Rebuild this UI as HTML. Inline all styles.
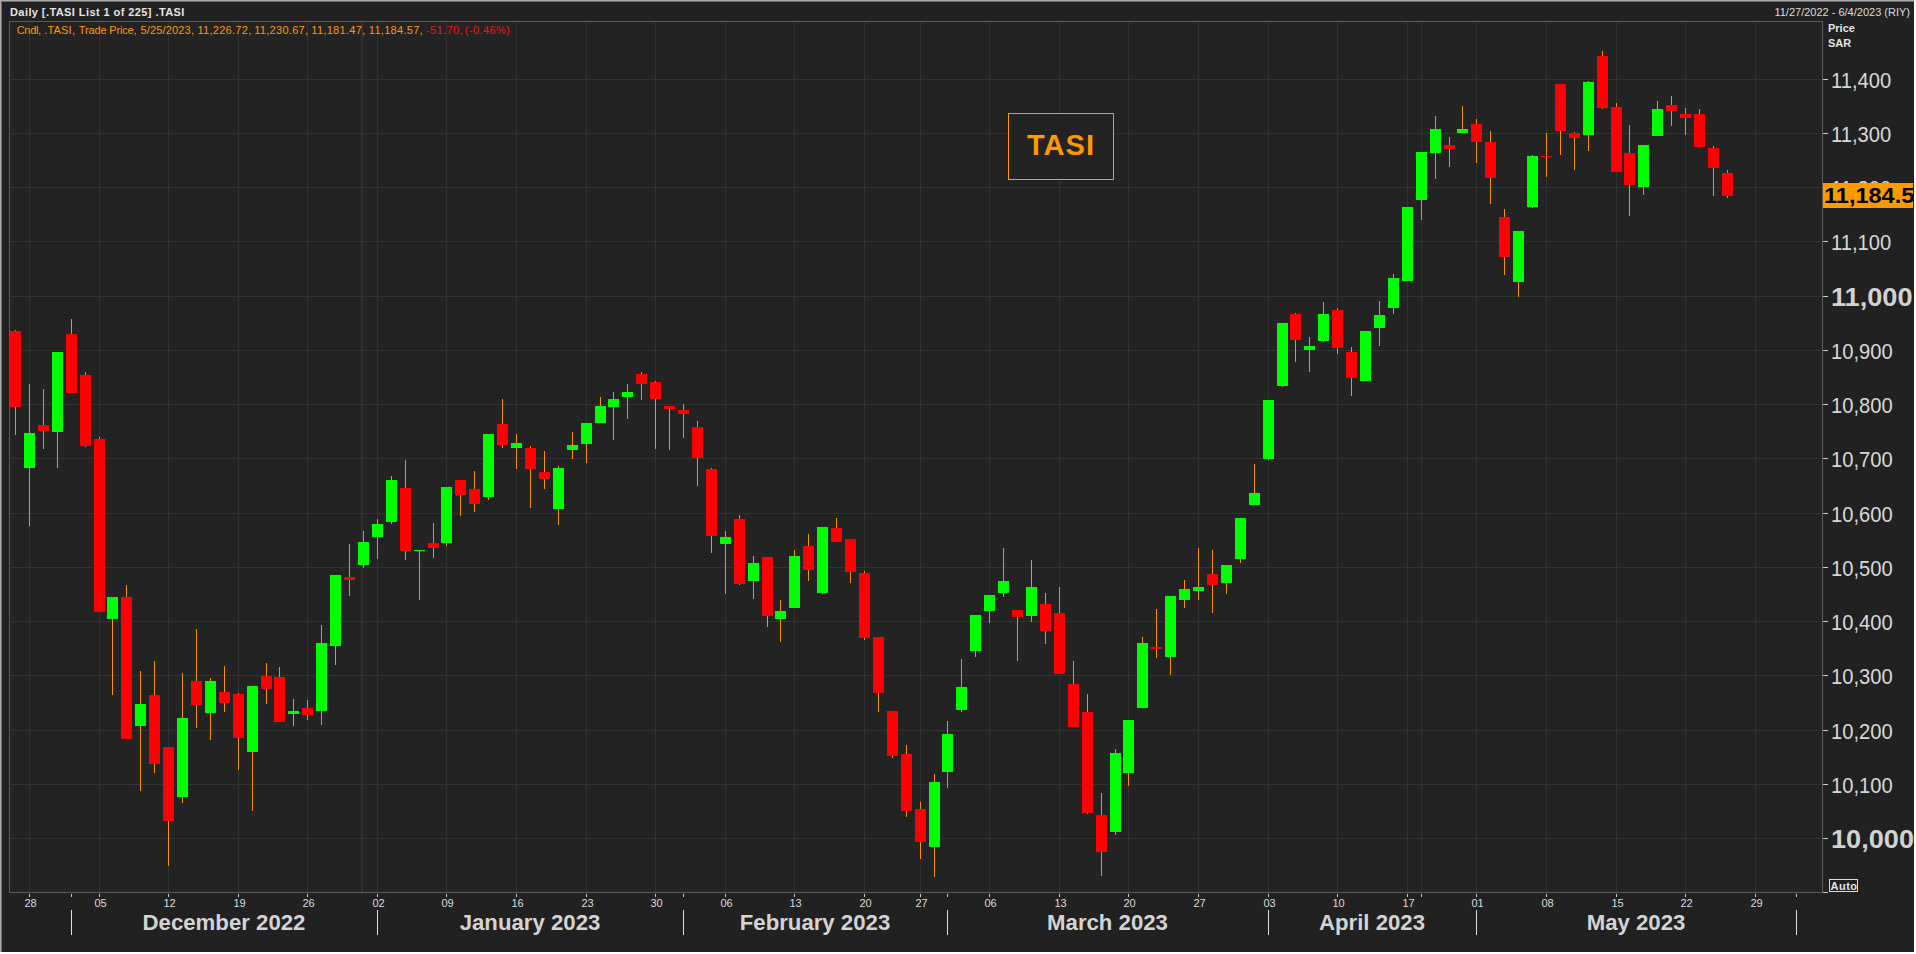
<!DOCTYPE html><html><head><meta charset="utf-8"><title>TASI</title><style>

html,body{margin:0;padding:0;background:#212121;}
body{width:1916px;height:954px;position:relative;overflow:hidden;font-family:"Liberation Sans",sans-serif;}
#wrap{position:absolute;left:0;top:0;width:1916px;height:954px;background:#212121;overflow:hidden;}
svg{position:absolute;left:0;top:0;}
.t{position:absolute;white-space:nowrap;line-height:1;}
.title{font-size:11px;font-weight:bold;color:#e4e4e4;left:10px;top:7px;letter-spacing:0.42px;}
.lg{font-size:11px;color:#ff9900;top:25px;}
.lg.r{color:#f41414;}
.rng{font-size:11px;color:#dcdcdc;top:7px;right:6px;}
.ph{font-size:11px;font-weight:bold;color:#e4e4e4;left:1828px;}
.yl{font-size:22.7px;color:#d8d8d8;left:1830.5px;transform-origin:0 0;transform:scaleX(0.89);}
.yb{font-size:25px;font-weight:bold;color:#d2d2d2;left:1830.5px;transform-origin:0 0;transform:scaleX(1.085);}
.dl{font-size:11px;color:#dcdcdc;width:30px;text-align:center;top:898px;}
.ml{font-size:22.2px;font-weight:bold;color:#d4d4d4;letter-spacing:0px;top:912px;width:300px;text-align:center;}
#cur{position:absolute;left:1823px;top:183px;width:90px;height:25px;background:#ff9900;overflow:hidden;}
#cur span{position:absolute;left:1px;top:2px;font-size:21.6px;font-weight:bold;color:#000;transform-origin:0 0;transform:scaleX(1.09);white-space:nowrap;line-height:1;}
#tasi{position:absolute;left:1008px;top:113px;width:104px;height:65px;border:1px solid #ff9900;background:#232323;}
#tasi span{position:absolute;left:0px;width:104px;text-align:center;top:17px;font-size:29px;font-weight:bold;color:#ff9900;line-height:1;letter-spacing:1px;}
#auto{position:absolute;left:1829px;top:879px;width:27px;height:11px;border:1px solid #dddddd;}
#auto span{position:absolute;left:0.5px;top:1px;font-size:11px;font-weight:bold;color:#e4e4e4;line-height:1;letter-spacing:0.5px;}
.edge{position:absolute;background:#a8a8a8;}

</style></head><body><div id="wrap">
<svg width="1916" height="954" viewBox="0 0 1916 954" shape-rendering="crispEdges"><rect x="9" y="21" width="1814" height="872" fill="#232323"/><rect x="10" y="79" width="1812" height="1" fill="#323232"/><rect x="10" y="133" width="1812" height="1" fill="#323232"/><rect x="10" y="187" width="1812" height="1" fill="#323232"/><rect x="10" y="241" width="1812" height="1" fill="#323232"/><rect x="10" y="296" width="1812" height="1" fill="#323232"/><rect x="10" y="350" width="1812" height="1" fill="#323232"/><rect x="10" y="404" width="1812" height="1" fill="#323232"/><rect x="10" y="458" width="1812" height="1" fill="#323232"/><rect x="10" y="513" width="1812" height="1" fill="#323232"/><rect x="10" y="567" width="1812" height="1" fill="#323232"/><rect x="10" y="621" width="1812" height="1" fill="#323232"/><rect x="10" y="675" width="1812" height="1" fill="#323232"/><rect x="10" y="730" width="1812" height="1" fill="#323232"/><rect x="10" y="784" width="1812" height="1" fill="#323232"/><rect x="10" y="838" width="1812" height="1" fill="#323232"/><rect x="29" y="22" width="1" height="870" fill="#323232"/><rect x="99" y="22" width="1" height="870" fill="#323232"/><rect x="168" y="22" width="1" height="870" fill="#323232"/><rect x="238" y="22" width="1" height="870" fill="#323232"/><rect x="307" y="22" width="1" height="870" fill="#323232"/><rect x="377" y="22" width="1" height="870" fill="#323232"/><rect x="446" y="22" width="1" height="870" fill="#323232"/><rect x="516" y="22" width="1" height="870" fill="#323232"/><rect x="586" y="22" width="1" height="870" fill="#323232"/><rect x="655" y="22" width="1" height="870" fill="#323232"/><rect x="725" y="22" width="1" height="870" fill="#323232"/><rect x="794" y="22" width="1" height="870" fill="#323232"/><rect x="864" y="22" width="1" height="870" fill="#323232"/><rect x="920" y="22" width="1" height="870" fill="#323232"/><rect x="989" y="22" width="1" height="870" fill="#323232"/><rect x="1059" y="22" width="1" height="870" fill="#323232"/><rect x="1128" y="22" width="1" height="870" fill="#323232"/><rect x="1198" y="22" width="1" height="870" fill="#323232"/><rect x="1268" y="22" width="1" height="870" fill="#323232"/><rect x="1337" y="22" width="1" height="870" fill="#323232"/><rect x="1407" y="22" width="1" height="870" fill="#323232"/><rect x="1421" y="22" width="1" height="870" fill="#323232"/><rect x="1476" y="22" width="1" height="870" fill="#323232"/><rect x="1546" y="22" width="1" height="870" fill="#323232"/><rect x="1616" y="22" width="1" height="870" fill="#323232"/><rect x="1685" y="22" width="1" height="870" fill="#323232"/><rect x="1755" y="22" width="1" height="870" fill="#323232"/><rect x="361" y="22" width="2" height="870" fill="#303030"/><rect x="9" y="21" width="1814" height="1" fill="#5a5a5a"/><rect x="9" y="892" width="1814" height="1" fill="#5a5a5a"/><rect x="9" y="21" width="1" height="872" fill="#5a5a5a"/><rect x="1822" y="21" width="1" height="872" fill="#5a5a5a"/><rect x="1823" y="79" width="5" height="1" fill="#cccccc"/><rect x="1823" y="133" width="5" height="1" fill="#cccccc"/><rect x="1823" y="187" width="5" height="1" fill="#cccccc"/><rect x="1823" y="241" width="5" height="1" fill="#cccccc"/><rect x="1823" y="296" width="5" height="1" fill="#cccccc"/><rect x="1823" y="350" width="5" height="1" fill="#cccccc"/><rect x="1823" y="404" width="5" height="1" fill="#cccccc"/><rect x="1823" y="458" width="5" height="1" fill="#cccccc"/><rect x="1823" y="513" width="5" height="1" fill="#cccccc"/><rect x="1823" y="567" width="5" height="1" fill="#cccccc"/><rect x="1823" y="621" width="5" height="1" fill="#cccccc"/><rect x="1823" y="675" width="5" height="1" fill="#cccccc"/><rect x="1823" y="730" width="5" height="1" fill="#cccccc"/><rect x="1823" y="784" width="5" height="1" fill="#cccccc"/><rect x="1823" y="838" width="5" height="1" fill="#cccccc"/><rect x="1823" y="892" width="5" height="1" fill="#cccccc"/><rect x="29" y="894" width="1" height="3" fill="#cccccc"/><rect x="99" y="894" width="1" height="3" fill="#cccccc"/><rect x="168" y="894" width="1" height="3" fill="#cccccc"/><rect x="238" y="894" width="1" height="3" fill="#cccccc"/><rect x="307" y="894" width="1" height="3" fill="#cccccc"/><rect x="377" y="894" width="1" height="3" fill="#cccccc"/><rect x="446" y="894" width="1" height="3" fill="#cccccc"/><rect x="516" y="894" width="1" height="3" fill="#cccccc"/><rect x="586" y="894" width="1" height="3" fill="#cccccc"/><rect x="655" y="894" width="1" height="3" fill="#cccccc"/><rect x="725" y="894" width="1" height="3" fill="#cccccc"/><rect x="794" y="894" width="1" height="3" fill="#cccccc"/><rect x="864" y="894" width="1" height="3" fill="#cccccc"/><rect x="920" y="894" width="1" height="3" fill="#cccccc"/><rect x="989" y="894" width="1" height="3" fill="#cccccc"/><rect x="1059" y="894" width="1" height="3" fill="#cccccc"/><rect x="1128" y="894" width="1" height="3" fill="#cccccc"/><rect x="1198" y="894" width="1" height="3" fill="#cccccc"/><rect x="1268" y="894" width="1" height="3" fill="#cccccc"/><rect x="1337" y="894" width="1" height="3" fill="#cccccc"/><rect x="1407" y="894" width="1" height="3" fill="#cccccc"/><rect x="1421" y="894" width="1" height="3" fill="#cccccc"/><rect x="1476" y="894" width="1" height="3" fill="#cccccc"/><rect x="1546" y="894" width="1" height="3" fill="#cccccc"/><rect x="1616" y="894" width="1" height="3" fill="#cccccc"/><rect x="1685" y="894" width="1" height="3" fill="#cccccc"/><rect x="1755" y="894" width="1" height="3" fill="#cccccc"/><rect x="71" y="894" width="1" height="3" fill="#cccccc"/><rect x="71" y="910" width="1" height="25" fill="#dddddd"/><rect x="377" y="894" width="1" height="3" fill="#cccccc"/><rect x="377" y="910" width="1" height="25" fill="#dddddd"/><rect x="683" y="894" width="1" height="3" fill="#cccccc"/><rect x="683" y="910" width="1" height="25" fill="#dddddd"/><rect x="947" y="894" width="1" height="3" fill="#cccccc"/><rect x="947" y="910" width="1" height="25" fill="#dddddd"/><rect x="1268" y="894" width="1" height="3" fill="#cccccc"/><rect x="1268" y="910" width="1" height="25" fill="#dddddd"/><rect x="1476" y="894" width="1" height="3" fill="#cccccc"/><rect x="1476" y="910" width="1" height="25" fill="#dddddd"/><rect x="1796" y="894" width="1" height="3" fill="#cccccc"/><rect x="1796" y="910" width="1" height="25" fill="#dddddd"/><rect x="15" y="330" width="1" height="105" fill="#f59300"/><rect x="10" y="331" width="11" height="76" fill="#ff0000"/><rect x="29" y="384" width="1" height="142" fill="#f59300"/><rect x="24" y="433" width="11" height="35" fill="#00ff00"/><rect x="43" y="389" width="1" height="60" fill="#f59300"/><rect x="38" y="425" width="11" height="6" fill="#ff0000"/><rect x="57" y="352" width="1" height="116" fill="#f59300"/><rect x="52" y="352" width="11" height="80" fill="#00ff00"/><rect x="71" y="319" width="1" height="74" fill="#f59300"/><rect x="66" y="334" width="11" height="59" fill="#ff0000"/><rect x="85" y="372" width="1" height="75" fill="#f59300"/><rect x="80" y="375" width="11" height="71" fill="#ff0000"/><rect x="99" y="437" width="1" height="175" fill="#f59300"/><rect x="94" y="439" width="11" height="173" fill="#ff0000"/><rect x="112" y="597" width="1" height="98" fill="#f59300"/><rect x="107" y="597" width="11" height="22" fill="#00ff00"/><rect x="126" y="585" width="1" height="154" fill="#f59300"/><rect x="121" y="597" width="11" height="142" fill="#ff0000"/><rect x="140" y="671" width="1" height="120" fill="#f59300"/><rect x="135" y="704" width="11" height="22" fill="#00ff00"/><rect x="154" y="661" width="1" height="112" fill="#f59300"/><rect x="149" y="695" width="11" height="69" fill="#ff0000"/><rect x="168" y="747" width="1" height="119" fill="#f59300"/><rect x="163" y="747" width="11" height="74" fill="#ff0000"/><rect x="182" y="673" width="1" height="130" fill="#f59300"/><rect x="177" y="718" width="11" height="79" fill="#00ff00"/><rect x="196" y="629" width="1" height="99" fill="#f59300"/><rect x="191" y="681" width="11" height="24" fill="#ff0000"/><rect x="210" y="678" width="1" height="62" fill="#f59300"/><rect x="205" y="681" width="11" height="32" fill="#00ff00"/><rect x="224" y="666" width="1" height="46" fill="#f59300"/><rect x="219" y="692" width="11" height="11" fill="#ff0000"/><rect x="238" y="693" width="1" height="77" fill="#f59300"/><rect x="233" y="694" width="11" height="44" fill="#ff0000"/><rect x="252" y="686" width="1" height="125" fill="#f59300"/><rect x="247" y="686" width="11" height="66" fill="#00ff00"/><rect x="266" y="663" width="1" height="41" fill="#f59300"/><rect x="261" y="676" width="11" height="13" fill="#ff0000"/><rect x="279" y="667" width="1" height="55" fill="#f59300"/><rect x="274" y="677" width="11" height="45" fill="#ff0000"/><rect x="293" y="699" width="1" height="27" fill="#f59300"/><rect x="288" y="711" width="11" height="3" fill="#00ff00"/><rect x="307" y="700" width="1" height="20" fill="#f59300"/><rect x="302" y="708" width="11" height="7" fill="#ff0000"/><rect x="321" y="625" width="1" height="100" fill="#f59300"/><rect x="316" y="643" width="11" height="68" fill="#00ff00"/><rect x="335" y="575" width="1" height="90" fill="#f59300"/><rect x="330" y="575" width="11" height="71" fill="#00ff00"/><rect x="349" y="544" width="1" height="52" fill="#f59300"/><rect x="344" y="577" width="11" height="3" fill="#ff0000"/><rect x="363" y="531" width="1" height="37" fill="#f59300"/><rect x="358" y="542" width="11" height="23" fill="#00ff00"/><rect x="377" y="519" width="1" height="40" fill="#f59300"/><rect x="372" y="524" width="11" height="13" fill="#00ff00"/><rect x="391" y="476" width="1" height="48" fill="#f59300"/><rect x="386" y="480" width="11" height="42" fill="#00ff00"/><rect x="405" y="460" width="1" height="100" fill="#f59300"/><rect x="400" y="488" width="11" height="63" fill="#ff0000"/><rect x="419" y="550" width="1" height="50" fill="#f59300"/><rect x="414" y="550" width="11" height="1" fill="#00ff00"/><rect x="433" y="523" width="1" height="35" fill="#f59300"/><rect x="428" y="543" width="11" height="5" fill="#ff0000"/><rect x="446" y="487" width="1" height="59" fill="#f59300"/><rect x="441" y="487" width="11" height="56" fill="#00ff00"/><rect x="460" y="480" width="1" height="36" fill="#f59300"/><rect x="455" y="480" width="11" height="15" fill="#ff0000"/><rect x="474" y="471" width="1" height="41" fill="#f59300"/><rect x="469" y="489" width="11" height="15" fill="#ff0000"/><rect x="488" y="434" width="1" height="66" fill="#f59300"/><rect x="483" y="434" width="11" height="63" fill="#00ff00"/><rect x="502" y="399" width="1" height="49" fill="#f59300"/><rect x="497" y="424" width="11" height="21" fill="#ff0000"/><rect x="516" y="434" width="1" height="35" fill="#f59300"/><rect x="511" y="443" width="11" height="5" fill="#00ff00"/><rect x="530" y="446" width="1" height="62" fill="#f59300"/><rect x="525" y="448" width="11" height="21" fill="#ff0000"/><rect x="544" y="451" width="1" height="38" fill="#f59300"/><rect x="539" y="472" width="11" height="7" fill="#ff0000"/><rect x="558" y="466" width="1" height="59" fill="#f59300"/><rect x="553" y="468" width="11" height="41" fill="#00ff00"/><rect x="572" y="432" width="1" height="27" fill="#f59300"/><rect x="567" y="445" width="11" height="5" fill="#00ff00"/><rect x="586" y="423" width="1" height="40" fill="#f59300"/><rect x="581" y="423" width="11" height="21" fill="#00ff00"/><rect x="600" y="397" width="1" height="26" fill="#f59300"/><rect x="595" y="406" width="11" height="17" fill="#00ff00"/><rect x="613" y="392" width="1" height="48" fill="#f59300"/><rect x="608" y="399" width="11" height="8" fill="#00ff00"/><rect x="627" y="384" width="1" height="35" fill="#f59300"/><rect x="622" y="392" width="11" height="5" fill="#00ff00"/><rect x="641" y="372" width="1" height="28" fill="#f59300"/><rect x="636" y="374" width="11" height="10" fill="#ff0000"/><rect x="655" y="381" width="1" height="68" fill="#f59300"/><rect x="650" y="382" width="11" height="17" fill="#ff0000"/><rect x="669" y="406" width="1" height="44" fill="#f59300"/><rect x="664" y="406" width="11" height="3" fill="#ff0000"/><rect x="683" y="404" width="1" height="34" fill="#f59300"/><rect x="678" y="410" width="11" height="4" fill="#ff0000"/><rect x="697" y="421" width="1" height="65" fill="#f59300"/><rect x="692" y="427" width="11" height="31" fill="#ff0000"/><rect x="711" y="468" width="1" height="85" fill="#f59300"/><rect x="706" y="469" width="11" height="67" fill="#ff0000"/><rect x="725" y="531" width="1" height="63" fill="#f59300"/><rect x="720" y="537" width="11" height="7" fill="#00ff00"/><rect x="739" y="515" width="1" height="70" fill="#f59300"/><rect x="734" y="519" width="11" height="65" fill="#ff0000"/><rect x="753" y="556" width="1" height="43" fill="#f59300"/><rect x="748" y="563" width="11" height="18" fill="#00ff00"/><rect x="767" y="557" width="1" height="70" fill="#f59300"/><rect x="762" y="557" width="11" height="59" fill="#ff0000"/><rect x="780" y="600" width="1" height="42" fill="#f59300"/><rect x="775" y="611" width="11" height="8" fill="#00ff00"/><rect x="794" y="550" width="1" height="58" fill="#f59300"/><rect x="789" y="556" width="11" height="52" fill="#00ff00"/><rect x="808" y="534" width="1" height="47" fill="#f59300"/><rect x="803" y="546" width="11" height="24" fill="#ff0000"/><rect x="822" y="527" width="1" height="67" fill="#f59300"/><rect x="817" y="527" width="11" height="66" fill="#00ff00"/><rect x="836" y="518" width="1" height="24" fill="#f59300"/><rect x="831" y="528" width="11" height="14" fill="#ff0000"/><rect x="850" y="539" width="1" height="44" fill="#f59300"/><rect x="845" y="539" width="11" height="33" fill="#ff0000"/><rect x="864" y="571" width="1" height="69" fill="#f59300"/><rect x="859" y="573" width="11" height="65" fill="#ff0000"/><rect x="878" y="637" width="1" height="75" fill="#f59300"/><rect x="873" y="637" width="11" height="56" fill="#ff0000"/><rect x="892" y="711" width="1" height="47" fill="#f59300"/><rect x="887" y="711" width="11" height="45" fill="#ff0000"/><rect x="906" y="745" width="1" height="72" fill="#f59300"/><rect x="901" y="754" width="11" height="57" fill="#ff0000"/><rect x="920" y="802" width="1" height="57" fill="#f59300"/><rect x="915" y="809" width="11" height="33" fill="#ff0000"/><rect x="934" y="774" width="1" height="103" fill="#f59300"/><rect x="929" y="782" width="11" height="65" fill="#00ff00"/><rect x="947" y="721" width="1" height="67" fill="#f59300"/><rect x="942" y="734" width="11" height="38" fill="#00ff00"/><rect x="961" y="659" width="1" height="53" fill="#f59300"/><rect x="956" y="687" width="11" height="23" fill="#00ff00"/><rect x="975" y="615" width="1" height="42" fill="#f59300"/><rect x="970" y="615" width="11" height="36" fill="#00ff00"/><rect x="989" y="595" width="1" height="28" fill="#f59300"/><rect x="984" y="595" width="11" height="16" fill="#00ff00"/><rect x="1003" y="548" width="1" height="49" fill="#f59300"/><rect x="998" y="581" width="11" height="12" fill="#00ff00"/><rect x="1017" y="610" width="1" height="51" fill="#f59300"/><rect x="1012" y="610" width="11" height="7" fill="#ff0000"/><rect x="1031" y="560" width="1" height="62" fill="#f59300"/><rect x="1026" y="587" width="11" height="29" fill="#00ff00"/><rect x="1045" y="593" width="1" height="51" fill="#f59300"/><rect x="1040" y="604" width="11" height="27" fill="#ff0000"/><rect x="1059" y="587" width="1" height="87" fill="#f59300"/><rect x="1054" y="613" width="11" height="61" fill="#ff0000"/><rect x="1073" y="661" width="1" height="66" fill="#f59300"/><rect x="1068" y="684" width="11" height="43" fill="#ff0000"/><rect x="1087" y="694" width="1" height="120" fill="#f59300"/><rect x="1082" y="712" width="11" height="101" fill="#ff0000"/><rect x="1101" y="793" width="1" height="83" fill="#f59300"/><rect x="1096" y="815" width="11" height="37" fill="#ff0000"/><rect x="1115" y="749" width="1" height="86" fill="#f59300"/><rect x="1110" y="753" width="11" height="79" fill="#00ff00"/><rect x="1128" y="720" width="1" height="66" fill="#f59300"/><rect x="1123" y="720" width="11" height="53" fill="#00ff00"/><rect x="1142" y="637" width="1" height="71" fill="#f59300"/><rect x="1137" y="643" width="11" height="65" fill="#00ff00"/><rect x="1156" y="609" width="1" height="49" fill="#f59300"/><rect x="1151" y="647" width="11" height="2" fill="#ff0000"/><rect x="1170" y="596" width="1" height="79" fill="#f59300"/><rect x="1165" y="596" width="11" height="61" fill="#00ff00"/><rect x="1184" y="580" width="1" height="28" fill="#f59300"/><rect x="1179" y="589" width="11" height="11" fill="#00ff00"/><rect x="1198" y="548" width="1" height="52" fill="#f59300"/><rect x="1193" y="587" width="11" height="4" fill="#00ff00"/><rect x="1212" y="550" width="1" height="63" fill="#f59300"/><rect x="1207" y="574" width="11" height="11" fill="#ff0000"/><rect x="1226" y="565" width="1" height="29" fill="#f59300"/><rect x="1221" y="565" width="11" height="18" fill="#00ff00"/><rect x="1240" y="518" width="1" height="45" fill="#f59300"/><rect x="1235" y="518" width="11" height="41" fill="#00ff00"/><rect x="1254" y="464" width="1" height="41" fill="#f59300"/><rect x="1249" y="493" width="11" height="12" fill="#00ff00"/><rect x="1268" y="400" width="1" height="60" fill="#f59300"/><rect x="1263" y="400" width="11" height="59" fill="#00ff00"/><rect x="1282" y="323" width="1" height="64" fill="#f59300"/><rect x="1277" y="323" width="11" height="63" fill="#00ff00"/><rect x="1295" y="313" width="1" height="49" fill="#f59300"/><rect x="1290" y="314" width="11" height="26" fill="#ff0000"/><rect x="1309" y="337" width="1" height="35" fill="#f59300"/><rect x="1304" y="346" width="11" height="4" fill="#00ff00"/><rect x="1323" y="302" width="1" height="40" fill="#f59300"/><rect x="1318" y="314" width="11" height="27" fill="#00ff00"/><rect x="1337" y="308" width="1" height="46" fill="#f59300"/><rect x="1332" y="310" width="11" height="38" fill="#ff0000"/><rect x="1351" y="347" width="1" height="49" fill="#f59300"/><rect x="1346" y="352" width="11" height="26" fill="#ff0000"/><rect x="1365" y="331" width="1" height="50" fill="#f59300"/><rect x="1360" y="331" width="11" height="50" fill="#00ff00"/><rect x="1379" y="301" width="1" height="45" fill="#f59300"/><rect x="1374" y="315" width="11" height="13" fill="#00ff00"/><rect x="1393" y="274" width="1" height="40" fill="#f59300"/><rect x="1388" y="278" width="11" height="30" fill="#00ff00"/><rect x="1407" y="207" width="1" height="74" fill="#f59300"/><rect x="1402" y="207" width="11" height="74" fill="#00ff00"/><rect x="1421" y="152" width="1" height="68" fill="#f59300"/><rect x="1416" y="152" width="11" height="48" fill="#00ff00"/><rect x="1435" y="116" width="1" height="63" fill="#f59300"/><rect x="1430" y="129" width="11" height="24" fill="#00ff00"/><rect x="1449" y="137" width="1" height="30" fill="#f59300"/><rect x="1444" y="145" width="11" height="4" fill="#ff0000"/><rect x="1462" y="106" width="1" height="27" fill="#f59300"/><rect x="1457" y="129" width="11" height="4" fill="#00ff00"/><rect x="1476" y="119" width="1" height="44" fill="#f59300"/><rect x="1471" y="124" width="11" height="18" fill="#ff0000"/><rect x="1490" y="131" width="1" height="73" fill="#f59300"/><rect x="1485" y="142" width="11" height="36" fill="#ff0000"/><rect x="1504" y="209" width="1" height="66" fill="#f59300"/><rect x="1499" y="217" width="11" height="40" fill="#ff0000"/><rect x="1518" y="231" width="1" height="66" fill="#f59300"/><rect x="1513" y="231" width="11" height="51" fill="#00ff00"/><rect x="1532" y="155" width="1" height="53" fill="#f59300"/><rect x="1527" y="156" width="11" height="51" fill="#00ff00"/><rect x="1546" y="133" width="1" height="44" fill="#f59300"/><rect x="1541" y="156" width="11" height="1" fill="#ff0000"/><rect x="1560" y="84" width="1" height="71" fill="#f59300"/><rect x="1555" y="84" width="11" height="47" fill="#ff0000"/><rect x="1574" y="132" width="1" height="38" fill="#f59300"/><rect x="1569" y="133" width="11" height="5" fill="#ff0000"/><rect x="1588" y="81" width="1" height="70" fill="#f59300"/><rect x="1583" y="82" width="11" height="53" fill="#00ff00"/><rect x="1602" y="51" width="1" height="58" fill="#f59300"/><rect x="1597" y="56" width="11" height="52" fill="#ff0000"/><rect x="1616" y="103" width="1" height="69" fill="#f59300"/><rect x="1611" y="107" width="11" height="65" fill="#ff0000"/><rect x="1629" y="125" width="1" height="91" fill="#f59300"/><rect x="1624" y="153" width="11" height="32" fill="#ff0000"/><rect x="1643" y="145" width="1" height="50" fill="#f59300"/><rect x="1638" y="145" width="11" height="42" fill="#00ff00"/><rect x="1657" y="101" width="1" height="35" fill="#f59300"/><rect x="1652" y="109" width="11" height="27" fill="#00ff00"/><rect x="1671" y="96" width="1" height="30" fill="#f59300"/><rect x="1666" y="105" width="11" height="6" fill="#ff0000"/><rect x="1685" y="108" width="1" height="27" fill="#f59300"/><rect x="1680" y="114" width="11" height="4" fill="#ff0000"/><rect x="1699" y="109" width="1" height="38" fill="#f59300"/><rect x="1694" y="114" width="11" height="33" fill="#ff0000"/><rect x="1713" y="146" width="1" height="50" fill="#f59300"/><rect x="1708" y="148" width="11" height="20" fill="#ff0000"/><rect x="1727" y="170" width="1" height="28" fill="#f59300"/><rect x="1722" y="173" width="11" height="23" fill="#ff0000"/></svg>
<div class="edge" style="left:0;top:0;width:1916px;height:2px;background:#6e6e6e"></div>
<div class="edge" style="left:0;top:0;width:2px;height:954px;background:#6e6e6e"></div>
<div class="edge" style="left:0;top:0;width:1916px;height:1px;background:#ababab"></div>
<div class="edge" style="left:0;top:0;width:1px;height:954px;background:#ababab"></div>
<div class="edge" style="left:1914px;top:0;width:2px;height:954px;background:#ffffff"></div>
<div class="edge" style="left:0;top:952px;width:1916px;height:2px;background:#ffffff"></div>
<div class="t title">Daily [.TASI List 1 of 225] .TASI</div>
<div class="t lg" style="left:16.7px;letter-spacing:-0.3px">Cndl,</div>
<div class="t lg" style="left:44.2px;letter-spacing:0.2px">.TASI,</div>
<div class="t lg" style="left:78.8px;letter-spacing:-0.15px">Trade Price,</div>
<div class="t lg" style="left:140.6px;letter-spacing:0.15px">5/25/2023,</div>
<div class="t lg" style="left:197.4px;letter-spacing:0.3px">11,226.72,</div>
<div class="t lg" style="left:254.2px;letter-spacing:0.3px">11,230.67,</div>
<div class="t lg" style="left:311.3px;letter-spacing:0.3px">11,181.47,</div>
<div class="t lg" style="left:368.8px;letter-spacing:0.3px">11,184.57,</div>
<div class="t lg r" style="left:425.8px;letter-spacing:0.45px">-51.70,</div>
<div class="t lg r" style="left:464.8px;letter-spacing:0.4px">(-0.46%)</div>
<div class="t rng">11/27/2022 - 6/4/2023 (RIY)</div>
<div class="t ph" style="top:23px">Price</div><div class="t ph" style="top:38px">SAR</div>
<div class="t yl" style="top:69px">11,400</div>
<div class="t yl" style="top:123px">11,300</div>
<div class="t yl" style="top:177px">11,200</div>
<div class="t yl" style="top:231px">11,100</div>
<div class="t yb" style="top:285px">11,000</div>
<div class="t yl" style="top:340px">10,900</div>
<div class="t yl" style="top:394px">10,800</div>
<div class="t yl" style="top:448px">10,700</div>
<div class="t yl" style="top:503px">10,600</div>
<div class="t yl" style="top:557px">10,500</div>
<div class="t yl" style="top:611px">10,400</div>
<div class="t yl" style="top:665px">10,300</div>
<div class="t yl" style="top:720px">10,200</div>
<div class="t yl" style="top:774px">10,100</div>
<div class="t yb" style="top:827px">10,000</div>
<div id="cur"><span>11,184.57</span></div>
<div id="tasi"><span>TASI</span></div>
<div id="auto"><span>Auto</span></div>
<div class="t dl" style="left:15.5px">28</div>
<div class="t dl" style="left:85.5px">05</div>
<div class="t dl" style="left:154.5px">12</div>
<div class="t dl" style="left:224.5px">19</div>
<div class="t dl" style="left:293.5px">26</div>
<div class="t dl" style="left:363.5px">02</div>
<div class="t dl" style="left:432.5px">09</div>
<div class="t dl" style="left:502.5px">16</div>
<div class="t dl" style="left:572.5px">23</div>
<div class="t dl" style="left:641.5px">30</div>
<div class="t dl" style="left:711.5px">06</div>
<div class="t dl" style="left:780.5px">13</div>
<div class="t dl" style="left:850.5px">20</div>
<div class="t dl" style="left:906.5px">27</div>
<div class="t dl" style="left:975.5px">06</div>
<div class="t dl" style="left:1045.5px">13</div>
<div class="t dl" style="left:1114.5px">20</div>
<div class="t dl" style="left:1184.5px">27</div>
<div class="t dl" style="left:1254.5px">03</div>
<div class="t dl" style="left:1323.5px">10</div>
<div class="t dl" style="left:1393.5px">17</div>
<div class="t dl" style="left:1462.5px">01</div>
<div class="t dl" style="left:1532.5px">08</div>
<div class="t dl" style="left:1602.5px">15</div>
<div class="t dl" style="left:1671.5px">22</div>
<div class="t dl" style="left:1741.5px">29</div>
<div class="t ml" style="left:74.0px">December 2022</div>
<div class="t ml" style="left:380.0px">January 2023</div>
<div class="t ml" style="left:665.0px">February 2023</div>
<div class="t ml" style="left:957.5px">March 2023</div>
<div class="t ml" style="left:1222.0px">April 2023</div>
<div class="t ml" style="left:1486.0px">May 2023</div>
</div></body></html>
